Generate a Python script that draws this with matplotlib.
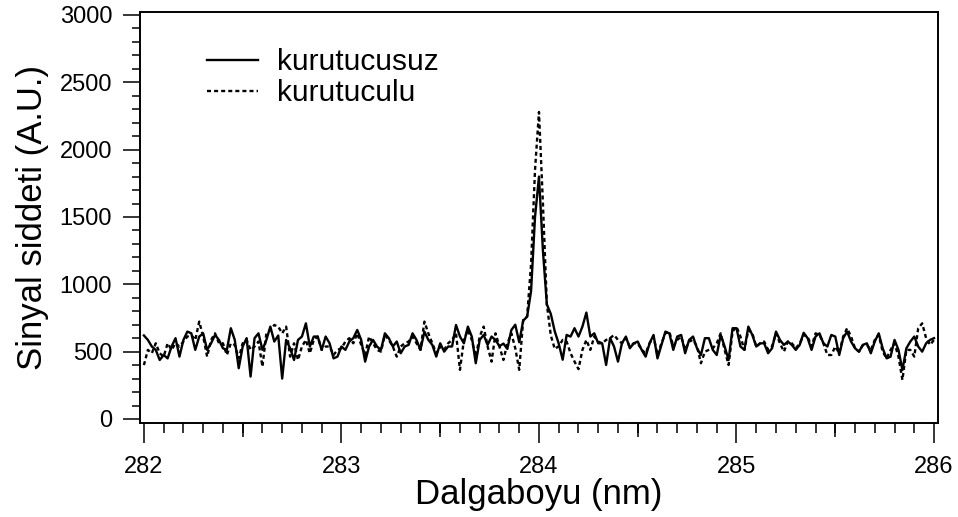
import numpy as np
import matplotlib.pyplot as plt

plt.rcParams['font.family'] = ['Liberation Sans', 'DejaVu Sans']

# wavelength grid, 0.02 nm step
wl_start = 282.0
wl_step = 0.02

# signal without dryer
kurutucusuz = [
    620, 587, 538, 513, 438, 475, 450, 538, 600, 463,
    587, 649, 636, 513, 612, 636, 513, 562, 624, 587,
    525, 513, 674, 587, 377, 538, 600, 315, 600, 636,
    513, 587, 686, 575, 620, 300, 587, 525, 438, 587,
    612, 710, 538, 612, 612, 513, 612, 562, 450, 463,
    538, 513, 575, 600, 661, 587, 426, 538, 587, 538,
    513, 636, 600, 538, 575, 488, 538, 550, 636, 587,
    513, 649, 587, 550, 463, 562, 500, 538, 538, 698,
    612, 562, 686, 612, 414, 587, 624, 550, 612, 587,
    540, 560, 520, 660, 700, 570, 730, 760, 950, 1500,
    1800, 1250, 850, 780, 650, 560, 440, 624, 612, 674,
    612, 686, 790, 612, 636, 562, 562, 401, 600, 538,
    426, 562, 612, 525, 562, 575, 513, 463, 562, 624,
    450, 550, 649, 636, 513, 612, 624, 488, 587, 612,
    525, 475, 600, 600, 513, 475, 624, 538, 438, 674,
    674, 538, 513, 686, 624, 538, 562, 562, 488, 525,
    649, 587, 550, 575, 550, 513, 550, 640, 600, 513,
    612, 636, 562, 538, 624, 612, 475, 600, 649, 575,
    525, 500, 550, 562, 488, 575, 636, 525, 450, 463,
    587, 513, 364, 525, 575, 612, 538, 500, 562, 587,
    600,
]

# signal with dryer
kurutuculu = [
    400, 513, 488, 562, 488, 463, 562, 513, 562, 538,
    575, 612, 624, 587, 723, 612, 463, 587, 636, 562,
    562, 475, 562, 550, 450, 562, 587, 513, 538, 575,
    389, 636, 661, 698, 686, 636, 686, 463, 562, 438,
    538, 587, 488, 587, 612, 513, 538, 538, 475, 513,
    525, 575, 600, 562, 636, 550, 475, 612, 562, 513,
    500, 624, 587, 538, 463, 538, 562, 575, 612, 562,
    513, 723, 636, 562, 488, 538, 513, 562, 587, 636,
    365, 587, 661, 587, 463, 612, 686, 538, 426, 636,
    538, 438, 562, 636, 525, 365, 735, 760, 1150, 1850,
    2280, 1600, 850, 620, 520, 540, 587, 575, 488, 426,
    370, 513, 587, 513, 612, 575, 562, 587, 600, 624,
    587, 562, 600, 538, 562, 562, 513, 488, 562, 612,
    475, 562, 636, 649, 538, 587, 612, 513, 575, 587,
    538, 414, 500, 513, 525, 562, 636, 513, 401, 649,
    686, 612, 513, 661, 636, 538, 562, 575, 513, 538,
    636, 562, 500, 575, 562, 525, 560, 624, 612, 538,
    636, 624, 562, 475, 475, 538, 488, 612, 674, 612,
    525, 500, 550, 550, 513, 587, 624, 500, 450, 513,
    562, 463, 290, 513, 513, 463, 674, 710, 600, 550,
    587,
]

wl = wl_start + wl_step * np.arange(len(kurutucusuz))

fig = plt.figure(figsize=(9.58, 5.17), dpi=100)
ax = fig.add_axes([0.1461, 0.1818, 0.8330, 0.7944])

ax.plot(wl, kurutucusuz, color='black', lw=1.7, label='kurutucusuz')
ax.plot(wl, kurutuculu, color='black', lw=1.7, linestyle=(0, (1.7, 1.3)),
        label='kurutuculu')

ax.set_xlim(281.98, 286.02)
ax.set_ylim(-30, 3020)

ax.set_xticks([282, 283, 284, 285, 286])
ax.set_xticks(np.arange(282, 286.01, 0.1), minor=True)
ax.set_yticks(np.arange(0, 3001, 500))
ax.set_yticks(np.arange(0, 3001, 100), minor=True)

ax.tick_params(axis='both', which='both', direction='out', width=1.1,
               labelsize=17, colors='black')
ax.tick_params(axis='x', which='major', length=14.5, pad=9)
ax.tick_params(axis='x', which='minor', length=7.5)
ax.tick_params(axis='y', which='major', length=12, pad=8)
ax.tick_params(axis='y', which='minor', length=6)

# half-nm ticks a bit longer than the rest
sec = ax.secondary_xaxis('bottom')
sec.set_xticks(np.arange(282.5, 286, 1.0))
sec.set_xticklabels([])
sec.tick_params(direction='out', length=10, width=1.1)
sec.spines['bottom'].set_visible(False)

for sp in ax.spines.values():
    sp.set_linewidth(1.4)

ax.set_xlabel('Dalgaboyu (nm)', fontsize=25, labelpad=0)
ax.set_ylabel('Sinyal siddeti (A.U.)', fontsize=25, labelpad=8)

ax.legend(loc='upper left', bbox_to_anchor=(0.084, 0.912), frameon=False,
          fontsize=21.5, handlelength=1.7, handletextpad=0.64,
          labelspacing=0.1, borderpad=0, borderaxespad=0)

fig.savefig('out.png', dpi=100)
